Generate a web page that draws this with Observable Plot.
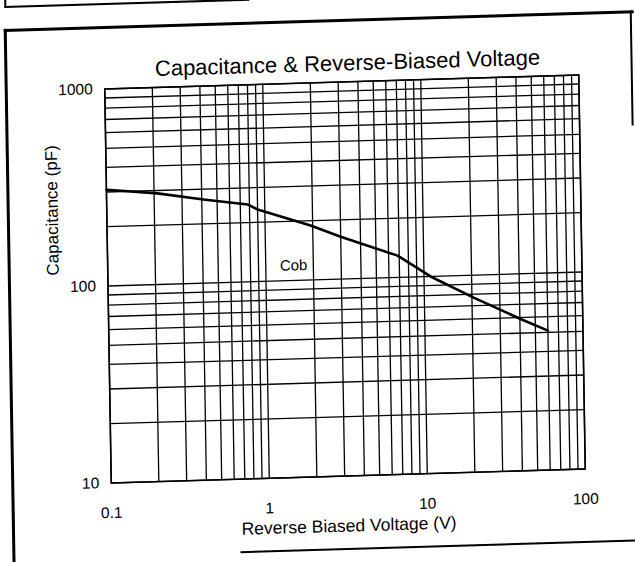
<!DOCTYPE html>
<html>
<head>
<meta charset="utf-8">
<script src="https://cdn.jsdelivr.net/npm/d3@7"></script>
<script src="https://cdn.jsdelivr.net/npm/@observablehq/plot@0.6"></script>
<style>
  html, body { margin: 0; padding: 0; background: #fff; overflow: hidden; }
  #page { position: relative; width: 635px; height: 562px;
          transform: matrix(1, -0.0295, 0.0165, 1, 0, 0);
          transform-origin: 344.5px 278.5px; }
  #page svg { position: absolute; left: 0; top: 0; }
  .edge { position: absolute; background: #000; }
</style>
</head>
<body>
<div id="page">
  <div class="edge" style="left:8px; top:19px; width:630px; height:2.6px;"></div>
  <div class="edge" style="left:8px; top:19px; width:2.6px; height:600px;"></div>
  <div class="edge" style="left:634px; top:19px; width:2.2px; height:115px;"></div>
  <div class="edge" style="left:236px; top:548px; width:410px; height:2.4px;"></div>
  <div class="edge" style="left:9px; top:-4px; width:245px; height:2.4px;"></div>
  <div class="edge" style="left:9px; top:-10px; width:2.4px; height:8px;"></div>
</div>
<script>
const chartTitle = "Capacitance & Reverse-Biased Voltage";
const xTitle = "Reverse Biased Voltage (V)";
const yTitle = "Capacitance (pF)";
const seriesName = "Cob";

// Reverse voltage (V) and capacitance (pF)
const voltage     = [0.1, 0.21, 0.41, 0.78, 0.9, 1.94, 3.0, 6.84, 11, 20.5, 40.4, 60];
const capacitance = [308, 290,  266,  247,  232, 189,  164, 129,  100, 77,  59,   51];

const xTicks = [0.1, 1, 10, 100];
const xTickLabels = ["0.1", "1", "10", "100"];
const yTicks = [10, 100, 1000];
const yTickLabels = ["10", "100", "1000"];

// grid lines 1..9 in each decade
const xGrid = [0.1,0.2,0.3,0.4,0.5,0.6,0.7,0.8,0.9,1,2,3,4,5,6,7,8,9,10,20,30,40,50,60,70,80,90,100];
const yGrid = [10,20,30,40,50,60,70,80,90,100,200,300,400,500,600,700,800,900,1000];

const labelPos = {v: 1.5, c: 119};

const data = voltage.map((v, i) => ({v, c: capacitance[i]}));

const font = "'Liberation Sans', Arial, Helvetica, sans-serif";

const chart = Plot.plot({
  width: 635,
  height: 562,
  marginLeft: 107.5,
  marginRight: 53.5,
  marginTop: 81.5,
  marginBottom: 86.5,
  style: {fontFamily: font, background: "transparent", color: "#000", overflow: "visible"},
  x: {type: "log", domain: [0.1, 100]},
  y: {type: "log", domain: [10, 1000]},
  marks: [
    Plot.gridX(xGrid, {stroke: "#000", strokeOpacity: 1, strokeWidth: 1.3}),
    Plot.gridY(yGrid, {stroke: "#000", strokeOpacity: 1, strokeWidth: 1.3}),
    Plot.frame({stroke: "#000", strokeWidth: 1.6}),
    Plot.axisX(xTicks, {tickSize: 0, tickPadding: 24, fontSize: 15.5, label: null,
      tickFormat: d => xTickLabels[xTicks.indexOf(d)]}),
    Plot.axisY(yTicks, {tickSize: 0, tickPadding: 12, fontSize: 15.5, label: null,
      tickFormat: d => yTickLabels[yTicks.indexOf(d)]}),
    Plot.line(data, {x: "v", y: "c", stroke: "#000", strokeWidth: 2.6, curve: "linear"}),
    Plot.text([seriesName], {x: labelPos.v, y: labelPos.c, text: d => d, fontSize: 15, fill: "#000"}),
    Plot.text([chartTitle], {frameAnchor: "top", text: d => d, dx: 6, dy: -18.5, fontSize: 22, lineAnchor: "middle", fill: "#000"}),
    Plot.text([xTitle], {frameAnchor: "bottom", text: d => d, dy: 50, fontSize: 17.5, lineAnchor: "middle", fill: "#000"}),
    Plot.text([yTitle], {frameAnchor: "left", text: d => d, dx: -54.5, dy: -12, rotate: -90, fontSize: 17, lineAnchor: "middle", fill: "#000"})
  ]
});
document.getElementById("page").appendChild(chart);
</script>
</body>
</html>
